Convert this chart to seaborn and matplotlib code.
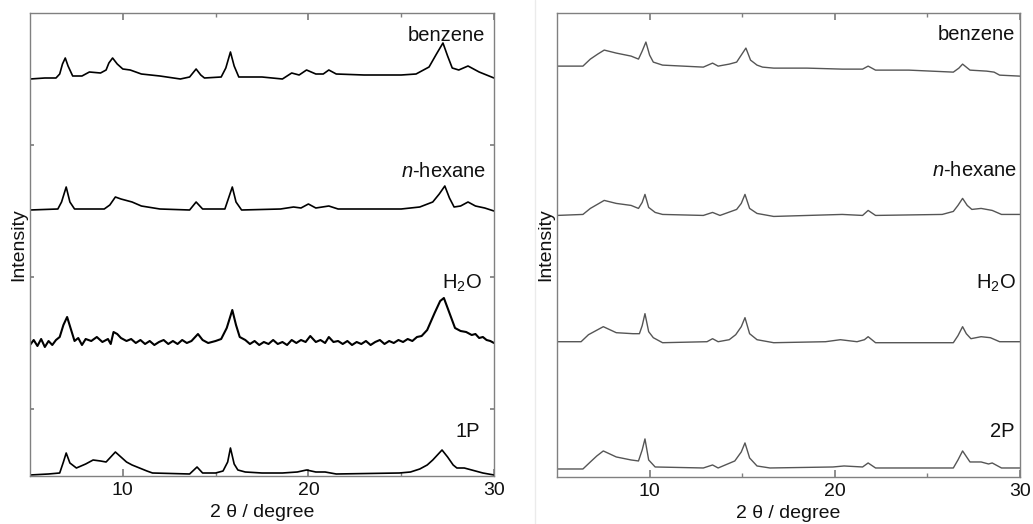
import numpy as np
import pandas as pd
import matplotlib
matplotlib.use('Agg')
import matplotlib.pyplot as plt
import seaborn as sns
from matplotlib.lines import Line2D

# ---- left panel (1P) : 2theta and height above own baseline (a.u.) ----
L_benz_x = [5.0, 5.8, 6.4, 6.6, 6.75, 6.9, 7.05, 7.3, 7.8, 8.2, 8.8, 9.1, 9.25, 9.45, 9.7, 10.0, 10.4, 11.0, 12.0, 13.1,
            13.6, 13.95, 14.2, 14.4, 15.3, 15.55, 15.8, 16.0, 16.25, 17.5, 18.6, 19.1, 19.5, 19.9, 20.4, 20.8, 21.1, 21.5,
            23.0, 25.0, 25.8, 26.5, 26.9, 27.25, 27.5, 27.75, 28.1, 28.6, 29.2, 29.6, 30.0]
L_benz_y = [-1, 0, 0, 4, 14, 20, 12, 2, 2, 6, 5, 8, 15, 20, 14, 9, 8, 4, 2, -1,
            1, 9, 3, 0, 1, 10, 26, 12, 1, 1, -1, 5, 3, 8, 4, 4, 8, 4,
            3, 3, 4, 11, 24, 35, 22, 10, 8, 12, 6, 3, 0]

L_hex_x = [5.0, 6.5, 6.7, 6.95, 7.15, 7.4, 9.0, 9.3, 9.6, 9.9, 10.5, 11.0, 12.0, 13.6, 13.95, 14.3, 15.5, 15.7, 15.9,
           16.1, 16.4, 18.5, 19.2, 19.6, 20.0, 20.4, 21.1, 21.6, 25.0, 26.0, 26.7, 27.05, 27.35, 27.6, 27.85, 28.2, 28.6,
           29.0, 29.5, 30.0]
L_hex_y = [0, 1, 8, 23, 8, 1, 1, 5, 13, 11, 8, 4, 1, 0, 8, 1, 1, 12, 23,
           8, 0, 1, 3, 2, 6, 2, 4, 1, 1, 3, 8, 16, 24, 12, 3, 4, 8,
           4, 2, -1]

L_h2o_x = [5.0, 5.2, 5.4, 5.6, 5.8, 6.0, 6.2, 6.4, 6.6, 6.8, 7.0, 7.2, 7.4, 7.6, 7.8, 8.0, 8.3, 8.6, 8.9, 9.2, 9.35,
           9.5, 9.7, 9.9, 10.2, 10.45, 10.7, 10.95, 11.2, 11.45, 11.7, 11.95, 12.2, 12.45, 12.7, 12.95, 13.2, 13.45,
           13.7, 14.05, 14.3, 14.6, 15.0, 15.3, 15.6, 15.9, 16.1, 16.3, 16.6, 16.85, 17.1, 17.35, 17.6, 17.85, 18.1,
           18.35, 18.6, 18.85, 19.1, 19.35, 19.6, 19.85, 20.1, 20.4, 20.65, 20.9, 21.1, 21.35, 21.6, 21.85, 22.1, 22.35,
           22.6, 22.85, 23.1, 23.35, 23.6, 23.85, 24.1, 24.35, 24.6, 24.85, 25.1, 25.35, 25.6, 25.85, 26.1, 26.4,
           26.8, 27.1, 27.3, 27.6, 27.9, 28.2, 28.5, 28.8, 29.0, 29.2, 29.4, 29.6, 29.8, 30.0]
L_h2o_y = [-2, 3, -3, 4, -4, 2, -2, 3, 6, 18, 26, 14, 2, 5, -2, 4, 2, 6, 1, 4, -1,
           11, 9, 5, 2, 4, 0, 3, -1, 2, -2, 1, 3, -1, 2, -1, 3, 0,
           2, 9, 3, 0, 2, 4, 15, 33, 18, 6, 3, -1, 2, -2, 1, -1, 3,
           -1, 1, -2, 3, 0, 3, 1, 7, 1, 3, 0, 6, 1, 2, -1, 2, -2,
           1, -1, 2, -2, 1, 3, -1, 2, 0, 3, 1, 4, 2, 6, 7, 13,
           30, 42, 45, 30, 15, 12, 11, 8, 9, 5, 6, 3, 2, 0]

L_1p_x = [5.0, 6.0, 6.6, 6.8, 6.95, 7.15, 7.5, 8.0, 8.4, 8.8, 9.1, 9.4, 9.6, 9.9, 10.2, 10.5, 10.9, 11.3, 11.6, 13.6,
          14.0, 14.3, 15.0, 15.4, 15.65, 15.8, 16.0, 16.2, 16.6, 17.5, 18.6, 19.4, 19.9, 20.4, 20.9, 21.5, 24.9, 25.5,
          26.0, 26.4, 26.7, 27.0, 27.2, 27.5, 27.8, 28.0, 28.4, 28.8, 29.4, 30.0]
L_1p_y = [-1, 0, 1, 12, 21, 11, 6, 10, 14, 13, 12, 18, 22, 17, 12, 9, 6, 3, 1, 0,
          7, 1, 1, 3, 12, 26, 10, 4, 2, 1, 1, 2, 4, 2, 2, 0, 1, 2,
          5, 9, 14, 20, 24, 17, 9, 6, 6, 4, 1, -1]

# ---- right panel (2P) ----
R_benz_x = [5.0, 6.4, 6.8, 7.2, 7.55, 8.2, 9.0, 9.4, 9.6, 9.8, 10.0, 10.2, 10.7, 12.9, 13.4, 13.7, 14.3, 14.7, 14.95,
            15.2, 15.45, 15.8, 16.1, 16.7, 18.5, 20.4, 21.5, 21.8, 22.2, 24.0, 26.4, 26.7, 26.9, 27.3, 28.2, 28.6, 28.9,
            30.0]
R_benz_y = [1, 1, 8, 13, 17, 14, 11, 8, 16, 25, 12, 5, 2, 0, 4, 1, 3, 5, 12,
            19, 7, 2, 0, -1, -1, -2, -2, 1, -3, -3, -5, -1, 3, -3, -4, -5, -8,
            -9]

R_hex_x = [5.0, 6.4, 6.8, 7.55, 8.2, 9.0, 9.4, 9.6, 9.75, 9.95, 10.3, 10.7, 12.9, 13.4, 13.8, 14.7, 14.95, 15.15, 15.4,
           15.8, 16.1, 16.7, 20.4, 21.5, 21.8, 22.2, 25.8, 26.4, 26.65, 26.9, 27.15, 27.4, 27.9, 28.5, 29.0, 30.0]
R_hex_y = [0, 1, 7, 15, 12, 10, 7, 13, 21, 8, 3, 1, 0, 3, 0, 6, 12, 21, 7,
           2, 1, -1, 1, 0, 5, 0, 1, 4, 10, 17, 10, 6, 7, 5, 1, 1]

R_h2o_x = [5.0, 6.3, 6.7, 7.1, 7.5, 8.2, 9.1, 9.45, 9.6, 9.75, 9.95, 10.2, 10.7, 13.1, 13.4, 13.7, 14.3, 14.65, 14.95,
           15.15, 15.4, 15.8, 16.7, 19.5, 20.3, 21.2, 21.6, 21.8, 22.2, 26.4, 26.65, 26.9, 27.1, 27.35, 27.9, 28.4, 28.9,
           30.0]
R_h2o_y = [0, 0, 7, 11, 15, 9, 8, 8, 16, 28, 10, 4, -1, 0, 3, 0, 2, 7, 15,
           24, 8, 2, -1, 0, 2, 0, 2, 5, -1, -1, 6, 15, 8, 3, 5, 4, 0,
           0]

R_2p_x = [5.0, 6.4, 6.8, 7.15, 7.5, 8.2, 9.0, 9.4, 9.6, 9.75, 9.95, 10.3, 12.9, 13.4, 13.7, 14.6, 14.95, 15.15, 15.4,
          15.8, 16.5, 19.9, 20.5, 21.5, 21.8, 22.2, 26.4, 26.65, 26.9, 27.3, 27.9, 28.3, 28.5, 29.0, 30.0]
R_2p_y = [-1, -1, 6, 12, 17, 11, 8, 7, 18, 29, 8, 1, 0, 3, 0, 7, 16, 25, 10,
          2, 0, 1, 2, 1, 5, 0, 0, 8, 17, 6, 6, 4, 5, 0, 0]

names_left = ['benzene', '$n$-hexane', 'H$_2$O', '1P']
names_right = ['benzene', '$n$-hexane', 'H$_2$O', '2P']
offsets_left = [398, 266, 133, 2]
offsets_right = [409, 261, 135, 9]
label_x_left = [29.5, 29.57, 29.35, 29.25]
label_x_right = [29.73, 29.84, 29.8, 29.73]
label_base_left = [435, 299, 187, 39]
label_base_right = [436, 300, 188, 40]

left_traces = [(L_benz_x, L_benz_y), (L_hex_x, L_hex_y), (L_h2o_x, L_h2o_y), (L_1p_x, L_1p_y)]
right_traces = [(R_benz_x, R_benz_y), (R_hex_x, R_hex_y), (R_h2o_x, R_h2o_y), (R_2p_x, R_2p_y)]

sns.set_theme(style='white')
plt.rcParams['font.family'] = ['Liberation Sans', 'DejaVu Sans']
plt.rcParams['mathtext.fontset'] = 'custom'
plt.rcParams['mathtext.rm'] = 'Liberation Sans'
plt.rcParams['mathtext.it'] = 'Liberation Sans:italic'

fig = plt.figure(figsize=(10.33, 5.24), dpi=100)
axL = fig.add_axes([30/1033, 48/524, 464/1033, 463/524])
axR = fig.add_axes([557/1033, 47/524, 463/1033, 464/524])

spine_col = '#808080'

def draw_panel(ax, traces, names, offs, lab_x, lab_y, color, lws):
    rows = []
    for (x, y), nm, off in zip(traces, names, offs):
        for xi, yi in zip(x, y):
            rows.append({'tt': xi, 'I': yi + off, 'sample': nm})
    df = pd.DataFrame(rows)
    for nm, lw in zip(names, lws):
        sns.lineplot(data=df[df['sample'] == nm], x='tt', y='I', ax=ax, color=color,
                     lw=lw, estimator=None, sort=False)
    for nm, xx, yy in zip(names, lab_x, lab_y):
        ax.text(xx, yy, nm, ha='right', va='baseline', fontsize=14.5, color='#111111')
    ax.set_xlim(5, 30)
    ax.set_ylim(0, 463)
    ax.set_xticks([10, 20, 30])
    ax.set_xticks([15, 25], minor=True)
    ax.tick_params(axis='x', which='both', direction='in', top=True, bottom=True,
                   color=spine_col, labelsize=14, pad=4, labelcolor='#111111')
    ax.tick_params(axis='x', which='major', length=5)
    ax.tick_params(axis='x', which='minor', length=3)
    ax.set_xlabel('2 θ / degree', fontsize=14, labelpad=4, color='#111111')
    ax.set_ylabel('Intensity', fontsize=14, color='#111111')
    ax.yaxis.set_label_coords(-0.006, 0.5)
    for s in ax.spines.values():
        s.set_color(spine_col)
        s.set_linewidth(1.0)
        s.set_visible(True)

draw_panel(axL, left_traces, names_left, offsets_left, label_x_left, label_base_left,
           'black', [1.2, 1.2, 1.5, 1.2])
axL.set_yticks([67, 199, 331])
axL.set_yticklabels([])
axL.tick_params(axis='y', direction='in', left=True, right=True, length=3, color=spine_col)

draw_panel(axR, right_traces, names_right, offsets_right, label_x_right, label_base_right,
           '#555555', [1.0, 1.0, 1.0, 1.0])
axR.set_yticks([])

fig.add_artist(Line2D([535/1033, 535/1033], [0, 1], color='#ebebeb', lw=1))

plt.savefig('out.png', dpi=100)
